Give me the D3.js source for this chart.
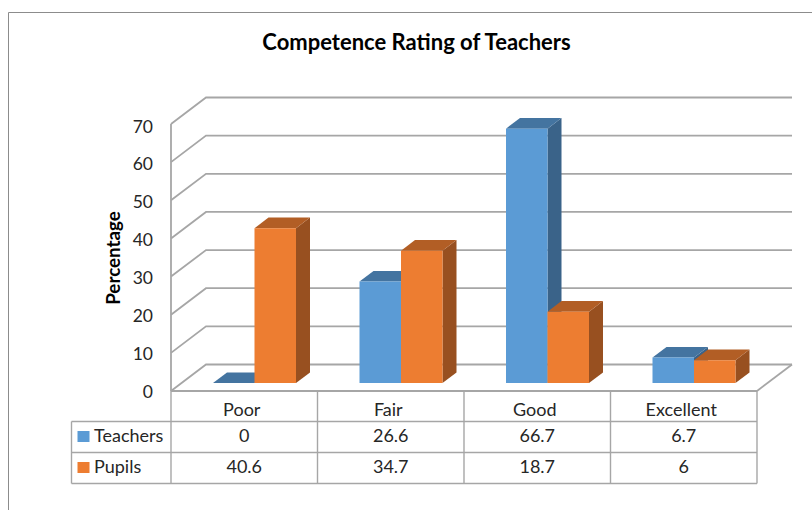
<!DOCTYPE html>
<meta charset="utf-8">
<style>
    body { margin: 0; background: #fff; overflow: hidden; }
    text { font-family: Lato, "Open Sans", sans-serif; fill: #262626; }
</style>
<svg id="canvas" width="812" height="510"></svg>
<script src="https://cdn.jsdelivr.net/npm/d3@7"></script>
<script>

    var categories = ["Poor", "Fair", "Good", "Excellent"];
    var seriesNames = ["Teachers", "Pupils"];
    var teachers = [0, 26.6, 66.7, 6.7];
    var pupils = [40.6, 34.7, 18.7, 6];
    var yTicks = [0, 10, 20, 30, 40, 50, 60, 70];

    var seriesValues = [teachers, pupils];
    var front = ["#5b9bd5", "#ed7d31"];
    var topFace = ["#4474a0", "#b25e25"];
    var side = ["#3a6389", "#985020"];
    var gridColor = "#a6a6a6";

    var svg = d3.select("svg");

    var x = d3.scaleBand().domain(categories).range([171, 757]);
    var xInner = d3.scaleBand().domain(seriesNames)
        .range([31.5, 114.5]);
    var y = d3.scaleLinear().domain([0, 70]).range([391, 124]);
    // tick labels run on a slightly tighter spacing than the gridlines
    var yLabel = d3.scaleLinear().domain([0, 70]).range([398, 132.5]);

    // oblique projection, depth 0 = front of floor, 1 = back wall
    var depthX = 35, depthY = -26.5;
    function pt(px, py, depth) {
        return [px + depth * depthX, py + depth * depthY];
    }
    var poly = d3.line();

    // chart frame
    svg.append("path")
        .attr("d", "M8.5,510V12.5H812")
        .attr("fill", "none")
        .attr("stroke", "#8c8c8c");

    svg.append("text")
        .attr("x", 416.5).attr("y", 50)
        .attr("text-anchor", "middle")
        .attr("font-size", 22).attr("font-weight", 700)
        .style("fill", "#000")
        .text("Competence Rating of Teachers");

    // walls and floor
    var grid = svg.append("g").attr("fill", "none").attr("stroke", gridColor).attr("stroke-width", 1.8);
    yTicks.forEach(function(t) {
        grid.append("path").attr("d", poly([
            pt(171, y(t), 0), pt(171, y(t), 1), pt(757, y(t), 1)
        ]));
    });
    grid.append("path").attr("d", poly([pt(171, y(0), 0), pt(171, y(70), 0)]));
    grid.append("path").attr("d", poly([pt(757, y(0), 0), pt(757, y(0), 1)]));

    svg.append("g").selectAll("text").data(yTicks).enter().append("text")
        .attr("x", 153).attr("y", function(d) { return yLabel(d); })
        .attr("text-anchor", "end")
        .attr("font-size", 17.5)
        .text(function(d) { return d; });

    svg.append("text")
        .attr("transform", "translate(120,258) rotate(-90)")
        .attr("text-anchor", "middle")
        .attr("font-size", 18.8).attr("font-weight", 700)
        .style("fill", "#000")
        .text("Percentage");

    // bars, drawn back to front within each category
    var d0 = 0.3, d1 = 0.7;
    var bars = svg.append("g");
    categories.forEach(function(cat, c) {
        seriesNames.forEach(function(name, s) {
            var v = seriesValues[s][c];
            var xl = x(cat) + xInner(name);
            var xr = xl + xInner.bandwidth();
            var yb = y(0), yt = y(v);
            if (v > 0) {
                bars.append("path").attr("fill", side[s]).attr("d", poly([
                    pt(xr, yt, d0), pt(xr, yt, d1), pt(xr, yb, d1), pt(xr, yb, d0)
                ]));
            }
            bars.append("path").attr("fill", topFace[s]).attr("d", poly([
                pt(xl, yt, d0), pt(xl, yt, d1), pt(xr, yt, d1), pt(xr, yt, d0)
            ]));
            if (v > 0) {
                bars.append("path").attr("fill", front[s]).attr("d", poly([
                    pt(xl, yt, d0), pt(xr, yt, d0), pt(xr, yb, d0), pt(xl, yb, d0)
                ]));
            }
        });
    });

    // data table
    var rowY = [391, 421.5, 452.5, 483.5];
    var tableLeft = 71.5, tableRight = 757;
    var table = svg.append("g").attr("stroke", "#a6a6a6").attr("stroke-width", 1.4);
    rowY.slice(1).forEach(function(ry) {
        table.append("line").attr("x1", tableLeft).attr("x2", tableRight).attr("y1", ry).attr("y2", ry);
    });
    table.append("line").attr("x1", 171).attr("x2", tableRight).attr("y1", 391).attr("y2", 391).attr("stroke-width", 1.8);
    table.append("line").attr("x1", tableLeft).attr("x2", tableLeft).attr("y1", rowY[1]).attr("y2", rowY[3]);
    categories.forEach(function(cat) {
        table.append("line").attr("x1", x(cat)).attr("x2", x(cat)).attr("y1", rowY[0]).attr("y2", rowY[3]);
    });
    table.append("line").attr("x1", tableRight).attr("x2", tableRight).attr("y1", rowY[0]).attr("y2", rowY[3]);

    var cells = svg.append("g").attr("font-size", 18);
    categories.forEach(function(cat, c) {
        var cx = x(cat) + x.bandwidth() / 2;
        cells.append("text").attr("x", cx - 2.5).attr("y", 416).attr("text-anchor", "middle").text(cat);
        seriesNames.forEach(function(name, s) {
            cells.append("text").attr("x", cx).attr("y", rowY[s + 1] + 20.5)
                .attr("text-anchor", "middle").text(seriesValues[s][c]);
        });
    });
    seriesNames.forEach(function(name, s) {
        svg.append("rect").attr("x", 77.5).attr("y", rowY[s + 1] + 9.5)
            .attr("width", 12).attr("height", 11).attr("fill", front[s]);
        cells.append("text").attr("x", 94).attr("y", rowY[s + 1] + 20).text(name);
    });

</script>
